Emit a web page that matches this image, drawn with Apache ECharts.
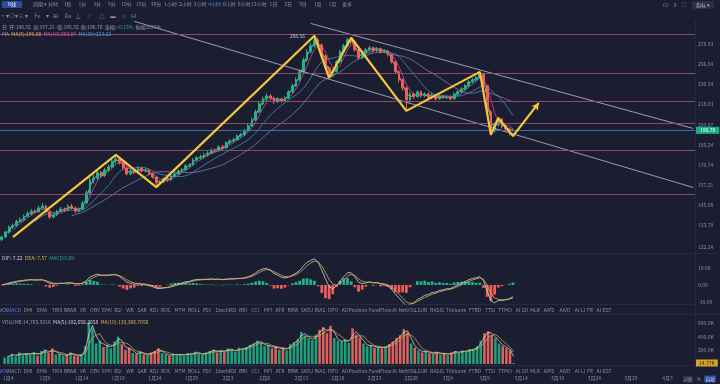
<!DOCTYPE html>
<html><head><meta charset="utf-8">
<script src="https://cdn.jsdelivr.net/npm/echarts@6/dist/echarts.min.js"></script>
<style>html,body{margin:0;padding:0;background:#1b1d30;}#c{width:720px;height:384px;}</style>
</head><body><div id="c"></div>
<script>
// ---------- DATA ----------
// candles: [open, close, low, high]
const candles = [
[126.0,127.3,125.2,128.1],[127.3,129.9,126.8,130.6],[129.9,132.5,129.1,133.4],[132.5,133.3,131.6,134.5],[133.3,135.7,132.8,136.6],
[135.7,136.4,134.9,137.8],[136.4,138.6,135.8,139.5],[138.6,140.0,137.9,141.2],[140.0,141.4,139.2,142.6],[141.4,141.0,140.1,142.5],
[141.0,143.3,140.6,144.6],[143.3,144.4,142.5,146.1],[144.4,141.0,140.2,145.0],[141.0,138.0,137.1,141.6],[138.0,139.2,137.4,140.3],
[139.2,141.4,138.6,142.2],[141.4,142.6,140.7,143.8],[142.6,142.1,141.0,143.5],[142.1,144.4,141.6,145.3],[144.4,143.3,142.4,145.6],
[143.3,141.4,140.5,144.0],[141.4,142.6,140.8,143.5],[142.6,146.2,142.0,147.3],[146.2,152.3,145.6,154.0],[152.3,160.5,151.5,163.0],
[160.5,161.8,158.3,164.2],[161.8,165.5,160.2,167.0],[165.5,163.2,161.9,166.4],[163.2,167.2,162.5,168.6],[167.2,169.2,165.8,170.8],
[169.2,173.4,168.4,175.0],[173.4,174.8,171.6,177.5],[174.8,172.0,170.9,176.0],[172.0,168.5,167.4,173.1],[168.5,164.5,163.6,169.4],
[164.5,166.5,163.8,167.9],[166.5,165.5,164.2,167.6],[165.5,168.5,165.0,169.7],[168.5,166.5,165.6,169.3],[166.5,167.2,165.4,168.6],
[167.2,164.5,163.7,168.0],[164.5,162.4,161.5,165.3],[162.4,158.6,156.8,163.0],[158.6,159.2,157.5,160.4],[159.2,161.1,158.4,162.3],
[161.1,160.5,159.4,162.4],[160.5,163.2,160.0,164.1],[163.2,164.5,162.4,165.7],[164.5,166.5,163.9,167.6],[166.5,167.2,165.3,168.4],
[167.2,170.0,166.6,171.2],[170.0,170.6,168.9,172.0],[170.6,174.1,170.0,175.3],[174.1,175.6,173.2,177.0],[175.6,176.3,174.4,177.8],
[176.3,177.7,175.0,179.2],[177.7,179.0,176.6,180.5],[179.0,181.3,178.2,182.6],[181.3,180.6,179.3,182.4],[180.6,183.6,180.0,184.8],
[183.6,182.8,181.5,185.0],[182.8,186.6,182.2,187.9],[186.6,188.1,185.4,189.5],[188.1,188.9,186.8,190.6],[188.9,191.9,188.0,193.1],
[191.9,192.8,190.6,194.5],[192.8,195.9,192.0,197.3],[195.9,199.9,195.1,201.4],[199.9,204.9,199.0,206.8],[204.9,211.7,204.0,213.5],
[211.7,218.7,210.6,220.9],[218.7,223.1,217.3,225.2],[223.1,225.8,221.0,228.0],[225.8,224.0,222.1,227.4],[224.0,220.4,218.7,225.1],
[220.4,223.1,219.5,224.6],[223.1,221.3,219.8,224.4],[221.3,224.0,220.6,225.5],[224.0,229.6,223.2,231.2],[229.6,235.3,228.4,237.0],
[235.3,241.1,234.1,243.5],[241.1,249.1,239.8,251.6],[249.1,261.5,247.9,263.8],[261.5,270.1,259.6,273.0],[270.1,276.8,268.2,280.2],
[276.8,283.7,274.9,288.36],[283.7,277.9,275.6,286.3],[277.9,265.8,263.9,279.1],[265.8,253.1,250.4,267.2],[253.1,245.0,242.9,255.0],
[245.0,249.1,243.6,251.3],[249.1,259.4,248.3,261.2],[259.4,270.1,258.0,272.4],[270.1,276.8,268.6,279.0],[276.8,283.7,275.4,286.1],
[283.7,281.4,278.6,286.0],[281.4,272.3,270.6,282.8],[272.3,263.6,261.4,273.5],[263.6,268.0,262.1,270.0],[268.0,272.3,266.9,274.2],
[272.3,274.6,270.8,276.9],[274.6,271.2,269.5,276.0],[271.2,273.5,270.1,275.4],[273.5,270.1,268.4,274.8],[270.1,271.2,268.9,273.0],
[271.2,266.9,265.0,272.4],[266.9,259.4,257.6,268.1],[259.4,249.1,247.0,260.6],[249.1,241.1,238.6,250.5],[241.1,233.4,230.8,242.7],
[233.4,222.2,212.5,234.6],[222.2,227.7,219.8,229.5],[227.7,225.0,223.4,229.0],[225.0,229.6,224.1,231.0],[229.6,225.8,224.3,230.8],
[225.8,227.7,224.6,229.3],[227.7,224.0,222.6,228.9],[224.0,226.8,223.1,228.2],[226.8,223.1,221.7,227.8],[223.1,225.8,222.4,227.0],
[225.8,224.0,222.8,226.9],[224.0,225.0,223.0,226.5],[225.0,223.1,221.9,226.2],[223.1,227.7,222.5,229.0],[227.7,229.6,226.4,231.1],
[229.6,232.4,228.5,234.0],[232.4,235.3,231.2,236.8],[235.3,239.1,234.0,240.6],[239.1,241.1,237.6,242.9],[241.1,243.1,239.9,245.0],
[243.1,247.0,242.0,249.5],[247.0,235.3,233.6,248.2],[235.3,211.7,209.5,236.6],[211.7,195.9,192.6,213.0],[195.9,200.8,194.5,202.6],
[200.8,205.7,199.6,207.2],[205.7,199.2,197.8,206.4],[199.2,197.5,195.9,200.6],[197.5,196.3,192.3,198.4],[196.32,196.78,195.32,197.21]
];
// volume in thousands
const volumes = [
95,120,150,110,170,130,160,140,175,120, 190,210,160,230,140,150,120,135,170,125,
110,140,260,610,520,300,340,250,280,230, 330,400,290,210,240,160,150,180,140,130,
170,190,230,160,140,120,150,130,145,125, 160,140,180,150,135,165,190,210,170,200,
175,230,205,180,240,210,250,280,300,340, 310,260,280,230,260,210,240,200,290,320,
360,470,420,380,350,430,500,540,450,560, 380,340,330,360,310,520,430,390,300,260,
280,240,250,230,260,290,330,380,420,510, 460,300,240,200,170,190,160,150,180,140,
160,130,170,190,160,200,180,220,210,260, 340,450,480,420,380,300,260,230,200,15
];
const priceTicks = [278.93,256.84,236.54,218.03,200.87,185.24,170.74,157.21,145.08,133.70,122.24];
const macdTicks = [10,0,-10];
const volTicks = [200,400,600];
const levels = [289.5,248.0,222.2,201.5,180.6,151.6];
const trendLines = [[[84,303.1],[188,197.9]],[[36,305.8],[188,155.7]]];
const zigzag = [[3,127.3],[31,177.7],[42,155.9],[85,288.4],[89,242.9],[95,286.0],[110,212.5],[130,249.0],[133,192.8],[135,206.5],[139,191.9],[146,219.5]];
const lastPrice = 196.78, lastVolume = 14.77, peakIndex = 85, peakPrice = 288.36;
const maPeriods = [2,4,10,20];

// categories: 12h slots from 2024-01-03 12:00 UTC
const nCats = 189;
const categories = [];
for (let i = 0; i < nCats; i++) {
  const d = new Date(Date.UTC(2024,0,3,12) + i*12*3600e3);
  categories.push((d.getUTCMonth()+1)+'月'+d.getUTCDate()+(d.getUTCHours()?' 12:00':''));
}

// ---------- derived ----------
const closes = candles.map(c=>c[1]);
function maOf(arr,n){return arr.map((_,i)=>{if(i<n-1)return '-';let s=0;for(let k=i-n+1;k<=i;k++)s+=arr[k];return s/n;});}
function ema(arr,n){const k=2/(n+1);let p;return arr.map((v,i)=>{p=i===0?v:p+k*(v-p);return p;});}
const fast=ema(closes,4), slow=ema(closes,9);
const dif=fast.map((v,i)=>v-slow[i]);
const dea=ema(dif,3);
const hist=dif.map((v,i)=>2*(v-dea[i]));
const L=Math.log;

const FONT='"Noto Sans CJK SC","Noto Sans",sans-serif';
const GREY='#8d90a8', UP='#22b58a', DOWN='#ec5f5a';
const maColors=['#e3cf9a','#d9589a','#3f9bd6','#8c86c4'];

const isUp=candles.map(c=>c[1]>=c[0]);

// ---------- UI texts ----------
const topItems=['分时','1秒','1分','3分','5分','10分','15分','30分','1小时','2小时','3小时','4小时','6小时','8小时','12小时','1日','2日','3日','1周','1月','更多'];
const tabs=['VOL','MACD','DMI','EMA','TRIX','BRAR','VR','OBV','EMV','RSI','WR','SAR','KDJ','ROC','MTM','BOLL','PSY','StochRSI','BBI','CCI','MFI','ATR','BBW','SKDJ','BIAS','DPO','AO','Position','FundFlow','AI-NetVOL','LSUR','BASIS','TVolume','FTBD','TTSI','TTMO','AI-SD','MLR','AIPS','AIVD','AI-LI','FR','AI-EST'];
const tabX=[4,14,28,42,57,70,83,95,107,118,130,142,154,166,180,194,207,226,243,255,268,280,293,307,320,333,345,358,380,404,421,437,456,475,490,505,522,535,549,565,580,590,604];

const graphics=[];
function txt(x,y,text,fill,align,size){graphics.push({type:'text',x:x,y:y,silent:true,z:100,style:{text:text,fill:fill,fontSize:size||5,fontFamily:FONT,align:align||'left',verticalAlign:'middle'}});}
function hline(x1,y1,x2,y2,c){graphics.push({type:'line',silent:true,z:1,shape:{x1:x1,y1:y1,x2:x2,y2:y2},style:{stroke:c,lineWidth:1}});}
hline(0,253.5,720,253.5,'#262940');
hline(0,304.5,695,304.5,'#262940');
hline(0,314.5,720,314.5,'#262940');
hline(0,365.5,695,365.5,'#262940');
hline(695.5,20,695.5,366,'#262940');
// top toolbar
graphics.push({type:'rect',silent:true,z:99,shape:{x:2,y:1,width:20,height:7,r:1},style:{fill:'#2b4c9c'}});
txt(12,4.5,'K线','#dfe4ff','center');
txt(40,4.5,'周期 ▾',GREY,'center');
topItems.forEach((t,i)=>txt(53+i*14.7,4.5,t,t==='4小时'?'#4f7fff':GREY,'center'));
txt(665,5,'⊡',GREY,'center',6);txt(675,5,'⁞⁞',GREY,'center',6);txt(684,5,'⛶',GREY,'center',6);
graphics.push({type:'rect',silent:true,z:99,shape:{x:692,y:1,width:22,height:8,r:1},style:{fill:'#2a2d48'}});
txt(703,5,'指标 ▾','#b8bbd0','center');
// drawing tools row
['+','▾','☐','▾','≡','▾','ƒx','▾','⊞','Aa','⊥','⟋','△','▬','⌂','⊟'].forEach((t,i)=>txt([3,7,11,16,21,26,37,47,55,68,78,89,102,113,124,133][i],16,t,GREY,'center',5.5));
// tab rows
tabs.forEach((t,i)=>{txt(tabX[i],310,t,t==='MACD'?'#4f7fff':GREY,'center');txt(tabX[i],371.5,t,t==='VOL'?'#4f7fff':GREY,'center');});
// bottom-right controls
graphics.push({type:'rect',silent:true,z:99,shape:{x:683,y:375.5,width:10,height:7,r:1},style:{fill:'#2a2d48'}});
txt(688,379,'对数',GREY,'center',4.5);txt(699,379,'%',GREY,'center');
graphics.push({type:'rect',silent:true,z:99,shape:{x:704,y:375.5,width:12,height:7,r:1},style:{fill:'#2b4c9c'}});
txt(710,379,'自动','#dfe4ff','center',4.5);

const rs=(c)=>({color:c,fontSize:5,fontFamily:FONT,fontWeight:'normal'});
const titles=[
 {left:2,top:24.5,padding:0,text:'{g|日  开:196.32  高:197.21  低:195.32  收:196.78  涨幅:}{u|+0.15%}{g|  振幅:0.97%}',textStyle:{fontWeight:'normal',rich:{g:rs('#9a9db3'),u:rs(UP)}}},
 {left:2,top:31.5,padding:0,text:'{g|MA  }{a|MA(5):199.08}{g|  }{b|MA(10):203.87}{g|  }{c|MA(30):223.22}',textStyle:{fontWeight:'normal',rich:{g:rs('#9a9db3'),a:rs('#d8b455'),b:rs('#d9589a'),c:rs('#3f9bd6')}}},
 {left:2,top:255.5,padding:0,text:'{w|DIF:-7.22}{g|  }{y|DEA:-7.57}{g|  }{t|MACD:0.69}',textStyle:{fontWeight:'normal',rich:{g:rs('#9a9db3'),w:rs('#d6d6e0'),y:rs('#d8b455'),t:rs(UP)}}},
 {left:2,top:319.5,padding:0,text:'{g|VOLUME:14,765.5016}{g|  }{w|MA(5):102,658.2658}{g|  }{y|MA(10):130,366.7056}',textStyle:{fontWeight:'normal',rich:{g:rs('#9a9db3'),w:rs('#d6d6e0'),y:rs('#d8b455')}}}
];

const axisLbl={color:GREY,fontSize:5,fontFamily:FONT,margin:3,align:'left'};
const xBase={type:'category',data:categories,boundaryGap:true,axisLine:{show:false},axisTick:{show:false},splitLine:{show:false}};

const option={
  backgroundColor:'#1b1d30',
  animation:false,
  title:titles,
  graphic:graphics,
  grid:[
    {left:0,right:25,top:20,height:232},
    {left:0,right:25,top:255,height:49},
    {left:0,right:25,top:320,height:44}
  ],
  xAxis:[
    Object.assign({gridIndex:0,axisLabel:{show:false}},xBase),
    Object.assign({gridIndex:1,axisLabel:{show:false}},xBase),
    Object.assign({gridIndex:2,axisLabel:{show:true,color:GREY,fontSize:5,fontFamily:FONT,margin:12,
      interval:(idx)=>(idx-1)%10===0,formatter:(v)=>v.split(' ')[0]}},xBase)
  ],
  yAxis:[
    {type:'value',gridIndex:0,position:'right',min:L(119.8),max:L(307.4),scale:true,
     axisLine:{show:false},axisTick:{show:false},splitLine:{show:false},
     axisLabel:Object.assign({customValues:priceTicks.map(L),formatter:(v)=>Math.exp(v).toFixed(2)},axisLbl)},
    {type:'value',gridIndex:1,position:'right',min:-11.2,max:17.6,
     axisLine:{show:false},axisTick:{show:false},splitLine:{show:false},
     axisLabel:Object.assign({customValues:macdTicks,formatter:(v)=>v.toFixed(2)},axisLbl)},
    {type:'value',gridIndex:2,position:'right',min:0,max:644,
     axisLine:{show:false},axisTick:{show:false},splitLine:{show:false},
     axisLabel:Object.assign({customValues:volTicks,formatter:(v)=>v.toFixed(1)+'K'},axisLbl)}
  ],
  series:[
    {type:'candlestick',xAxisIndex:0,yAxisIndex:0,barWidth:'62%',z:3,
     data:candles.map(c=>c.map(L)),
     itemStyle:{color:UP,color0:DOWN,borderColor:UP,borderColor0:DOWN,borderWidth:1},
     markLine:{silent:true,symbol:['none','none'],animation:false,
       data:levels.map(p=>({yAxis:L(p),lineStyle:{color:'#9a4f74',width:1,type:'solid',opacity:0.9},label:{show:false}}))
         .concat([{yAxis:L(lastPrice),lineStyle:{color:'#3c6da6',width:1,type:'solid'},
           label:{show:true,position:'end',distance:1,formatter:lastPrice.toFixed(2),color:'#fff',backgroundColor:'#17b07f',padding:[1,4],fontSize:5,fontFamily:FONT}}])},
     markPoint:{silent:true,symbol:'circle',symbolSize:1,itemStyle:{color:'rgba(0,0,0,0)'},
       data:[{coord:[peakIndex,L(peakPrice)],label:{show:true,position:'left',distance:9,formatter:peakPrice.toFixed(2),color:'#c9cad6',fontSize:5,fontFamily:FONT}}]}
    },
    ...maPeriods.map((n,k)=>({type:'line',xAxisIndex:0,yAxisIndex:0,data:maOf(closes,n).map(v=>v==='-'?'-':L(v)),
      showSymbol:false,symbol:'none',lineStyle:{color:maColors[k],width:0.8,opacity:0.9},z:2})),
    ...trendLines.map(t=>({type:'line',xAxisIndex:0,yAxisIndex:0,data:t.map(p=>[p[0],L(p[1])]),symbol:'none',
      lineStyle:{color:'#c4c6d4',width:0.9,opacity:0.85},z:4})),
    {type:'line',xAxisIndex:0,yAxisIndex:0,data:zigzag.map(p=>[p[0],L(p[1])]),z:6,
     symbol:(v,p)=>p.dataIndex===zigzag.length-1?'arrow':'none',symbolSize:[6,7],symbolRotate:-36,showAllSymbol:true,
     itemStyle:{color:'#f4c63c'},lineStyle:{color:'#f4c63c',width:2.2}},
    {type:'bar',xAxisIndex:1,yAxisIndex:1,data:hist,barWidth:'75%',
     itemStyle:{color:(p)=>p.value>=0?UP:DOWN}},
    {type:'line',xAxisIndex:1,yAxisIndex:1,data:dif,symbol:'none',lineStyle:{color:'#d6d6e0',width:0.8}},
    {type:'line',xAxisIndex:1,yAxisIndex:1,data:dea,symbol:'none',lineStyle:{color:'#d8b455',width:0.8}},
    {type:'bar',xAxisIndex:2,yAxisIndex:2,barWidth:'70%',
     data:volumes.map((v,i)=>({value:v,itemStyle:{color:isUp[i]?'#1f9f7a':'#d9625d'}})),
     markLine:{silent:true,symbol:['none','none'],data:[{yAxis:lastVolume,lineStyle:{color:'rgba(0,0,0,0)',width:0},
       label:{show:true,position:'end',distance:1,formatter:lastVolume.toFixed(2)+'K',color:'#1b1d30',backgroundColor:'#d9a528',padding:[1,3],fontSize:5,fontFamily:FONT,opacity:1}}]}},
    {type:'line',xAxisIndex:2,yAxisIndex:2,data:maOf(volumes,2),symbol:'none',lineStyle:{color:'#e0e0e6',width:0.7}},
    {type:'line',xAxisIndex:2,yAxisIndex:2,data:maOf(volumes,4),symbol:'none',lineStyle:{color:'#d8b455',width:0.7}}
  ]
};
const chart=echarts.init(document.getElementById('c'),null,{renderer:'canvas'});
chart.setOption(option);
</script></body></html>
